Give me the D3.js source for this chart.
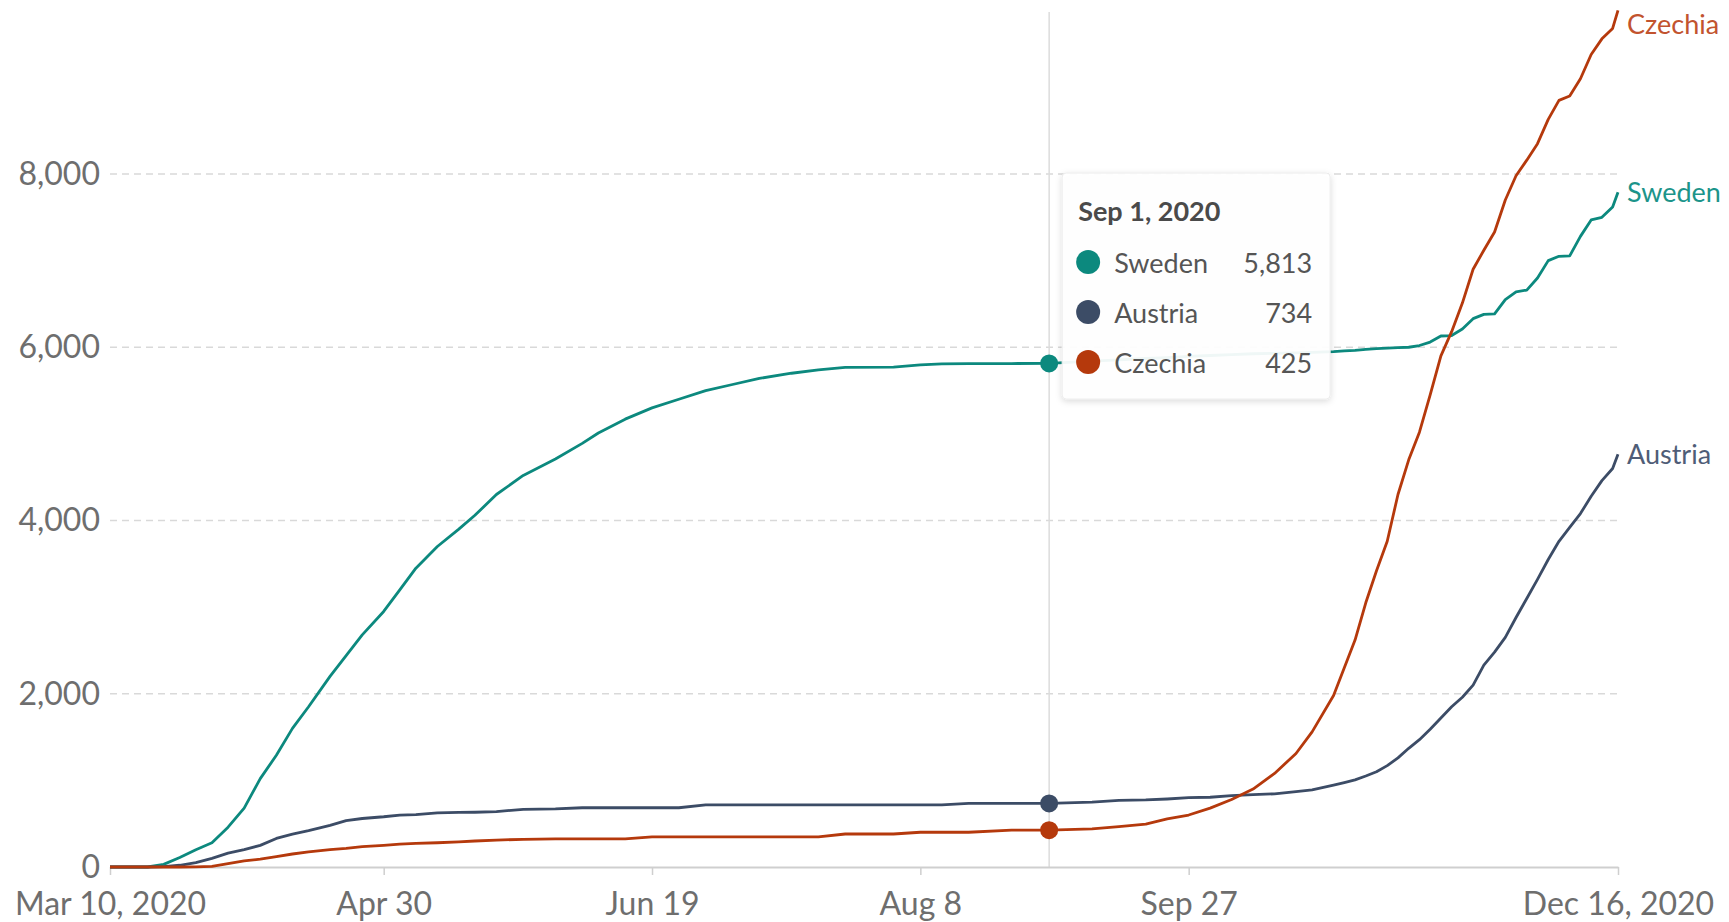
<!DOCTYPE html>
<html>
<head>
<meta charset="utf-8">
<script src="https://cdn.jsdelivr.net/npm/d3@7.9.0/dist/d3.min.js"></script>
<style>
  body { margin: 0; background: #fff; }
  svg { display: block; font-family: Lato, 'Open Sans', sans-serif; }
</style>
</head>
<body>
<svg id="chart" width="1729" height="922"></svg>
<script>
// days since Mar 10, 2020 for each sample
const startDate = '2020-03-10';
const endDate = '2020-12-16';
const dayOffsets = [0, 7, 10, 13, 16, 19, 22, 25, 28, 31,
  34, 37, 41, 44, 47, 51, 54, 57, 61, 65,
  68, 72, 77, 83, 88, 91, 96, 101, 106, 111,
  116, 121, 127, 132, 137, 146, 151, 155, 160, 168,
  175, 183, 188, 193, 197, 201, 205, 209, 213, 217,
  221, 224, 228, 230, 232, 234, 236, 238, 240, 242,
  244, 246, 248, 250, 252, 254, 256, 258, 260, 262,
  264, 266, 268, 270, 272, 274, 276, 278, 280, 281];

const sweden = [0, 0, 30, 110, 200, 280, 460, 680, 1020, 1290,
  1600, 1850, 2200, 2440, 2680, 2950, 3200, 3450, 3700, 3900,
  4060, 4300, 4520, 4710, 4890, 5010, 5170, 5300, 5400, 5500,
  5570, 5640, 5700, 5740, 5768, 5770, 5796, 5808, 5810, 5812,
  5813, 5840, 5855, 5870, 5880, 5895, 5905, 5915, 5925, 5930,
  5935, 5940, 5950, 5958, 5965, 5975, 5985, 5990, 5995, 6000,
  6020, 6060, 6130, 6135, 6210, 6330, 6380, 6385, 6550, 6640,
  6660, 6800, 7000, 7050, 7055, 7280, 7470, 7500, 7620, 7790];

const austria = [0, 0, 5, 20, 50, 100, 160, 200, 250, 330,
  380, 420, 480, 535, 560, 580, 600, 605, 625, 630,
  632, 640, 665, 670, 684, 684, 684, 684, 684, 717,
  717, 717, 717, 717, 717, 717, 717, 717, 734, 734,
  734, 750, 770, 775, 785, 800, 805, 825, 835, 845,
  870, 890, 945, 975, 1006, 1050, 1100, 1170, 1260, 1370,
  1470, 1590, 1720, 1850, 1960, 2100, 2330, 2480, 2650, 2880,
  3100, 3320, 3550, 3760, 3920, 4080, 4280, 4460, 4600, 4765];

const czechia = [0, 0, 0, 0, 2, 8, 40, 70, 90, 120,
  150, 175, 200, 215, 235, 250, 265, 272, 280, 290,
  300, 310, 320, 325, 325, 325, 325, 348, 348, 348,
  348, 348, 348, 348, 381, 381, 401, 401, 401, 425,
  425, 440, 465, 495, 555, 600, 680, 780, 900, 1080,
  1310, 1560, 1980, 2300, 2620, 3050, 3420, 3760, 4300, 4700,
  5020, 5450, 5900, 6180, 6510, 6900, 7120, 7330, 7700, 7980,
  8160, 8350, 8630, 8850, 8900, 9100, 9380, 9560, 9680, 9890];

const countries = ['Sweden', 'Austria', 'Czechia'];
const seriesValues = [sweden, austria, czechia];
const lineColors = ['#0c897e', '#3c4c66', '#b5390c'];
const labelColors = ['#1c948a', '#4f5d77', '#c2532e'];

const yTicks = [0, 2000, 4000, 6000, 8000];
const xTickDates = ['2020-03-10', '2020-04-30', '2020-06-19', '2020-08-08', '2020-09-27', '2020-12-16'];
const hoverDate = '2020-09-01';

const parse = d3.utcParse('%Y-%m-%d');
const start = parse(startDate);

const svg = d3.select('#chart');
const left = 110, right = 1618, bottom = 867;

const x = d3.scaleUtc()
    .domain([start, parse(endDate)])
    .range([left, right]);

const y = d3.scaleLinear()
    .domain([0, 10000])
    .range([bottom, 0.75]);

// build series
const series = countries.map((name, i) => ({
    name,
    color: lineColors[i],
    labelColor: labelColors[i],
    points: dayOffsets.map((d, j) => ({ date: d3.utcDay.offset(start, d), value: seriesValues[i][j] }))
}));

// dashed gridlines
svg.append('g')
    .selectAll('line')
    .data(yTicks.filter(t => t > 0))
    .join('line')
    .attr('x1', left)
    .attr('x2', right)
    .attr('y1', d => y(d))
    .attr('y2', d => y(d))
    .attr('stroke', '#d9d9d9')
    .attr('stroke-width', 1.5)
    .attr('stroke-dasharray', '7,5');

// y axis labels
const yAxis = svg.append('g')
    .attr('transform', `translate(${left},0)`)
    .call(d3.axisLeft(y).tickValues(yTicks).tickSize(0).tickPadding(10).tickFormat(d3.format(',')));
yAxis.select('.domain').remove();
yAxis.selectAll('text')
    .attr('font-family', 'Lato, sans-serif')
    .attr('font-size', 32)
    .attr('fill', '#6e6e6e');

// hover line
const hx = x(parse(hoverDate));
svg.append('line')
    .attr('x1', hx).attr('x2', hx)
    .attr('y1', 12).attr('y2', bottom)
    .attr('stroke', '#dcdcdc')
    .attr('stroke-width', 1.5);

// x axis
const fmtShort = d3.utcFormat('%b %-d');
const fmtLong = d3.utcFormat('%b %-d, %Y');
const xAxis = svg.append('g')
    .attr('transform', `translate(0,${bottom})`)
    .call(d3.axisBottom(x)
        .tickValues(xTickDates.map(parse))
        .tickSize(8)
        .tickSizeOuter(0)
        .tickPadding(17)
        .tickFormat((d, i) => (i === 0 || i === xTickDates.length - 1) ? fmtLong(d) : fmtShort(d)));
xAxis.select('.domain').attr('stroke', '#cfcfcf').attr('stroke-width', 2);
xAxis.selectAll('.tick line').attr('stroke', '#cfcfcf').attr('stroke-width', 1.5);
xAxis.selectAll('text')
    .attr('font-family', 'Lato, sans-serif')
    .attr('font-size', 32)
    .attr('fill', '#6e6e6e');

// lines
const line = d3.line()
    .x(d => x(d.date))
    .y(d => y(d.value));

svg.append('g')
    .selectAll('path')
    .data(series)
    .join('path')
    .attr('d', d => line(d.points))
    .attr('fill', 'none')
    .attr('stroke', d => d.color)
    .attr('stroke-width', 2.8)
    .attr('stroke-linejoin', 'round');

// hover dots
const hoverIndex = dayOffsets.indexOf(d3.utcDay.count(start, parse(hoverDate)));
svg.append('g')
    .selectAll('circle')
    .data(series)
    .join('circle')
    .attr('cx', hx)
    .attr('cy', d => y(d.points[hoverIndex].value))
    .attr('r', 9)
    .attr('fill', d => d.color);

// end labels
svg.append('g')
    .selectAll('text')
    .data(series)
    .join('text')
    .attr('x', right + 9)
    .attr('y', d => Math.max(y(d.points[d.points.length - 1].value), 24) + 3)
    .attr('dominant-baseline', 'middle')
    .attr('font-size', 27)
    .attr('fill', d => d.labelColor)
    .text(d => d.name);

// tooltip
const defs = svg.append('defs');
const filter = defs.append('filter').attr('id', 'shadow').attr('x', '-10%').attr('y', '-10%').attr('width', '130%').attr('height', '130%');
filter.append('feDropShadow')
    .attr('dx', 0).attr('dy', 2).attr('stdDeviation', 3)
    .attr('flood-color', '#000').attr('flood-opacity', 0.15);

const tip = svg.append('g').attr('transform', `translate(${hx + 13},173)`);
tip.append('rect')
    .attr('width', 268)
    .attr('height', 226)
    .attr('rx', 4)
    .attr('fill', 'rgba(255,255,255,0.93)')
    .attr('stroke', '#ececec')
    .attr('filter', 'url(#shadow)');
tip.append('text')
    .attr('x', 16)
    .attr('y', 48)
    .attr('font-size', 27)
    .attr('font-weight', 700)
    .attr('fill', '#4a4a4a')
    .text(fmtLong(parse(hoverDate)));

const rows = tip.selectAll('g.row')
    .data(series)
    .join('g')
    .attr('class', 'row')
    .attr('transform', (d, i) => `translate(0,${89 + i * 50})`);
rows.append('circle')
    .attr('cx', 26)
    .attr('r', 12)
    .attr('fill', d => d.color);
rows.append('text')
    .attr('x', 52)
    .attr('dominant-baseline', 'central')
    .attr('font-size', 27)
    .attr('fill', '#555')
    .text(d => d.name);
rows.append('text')
    .attr('x', 250)
    .attr('text-anchor', 'end')
    .attr('dominant-baseline', 'central')
    .attr('font-size', 27)
    .attr('fill', '#555')
    .text(d => d3.format(',')(d.points[hoverIndex].value));
</script>
</body>
</html>
